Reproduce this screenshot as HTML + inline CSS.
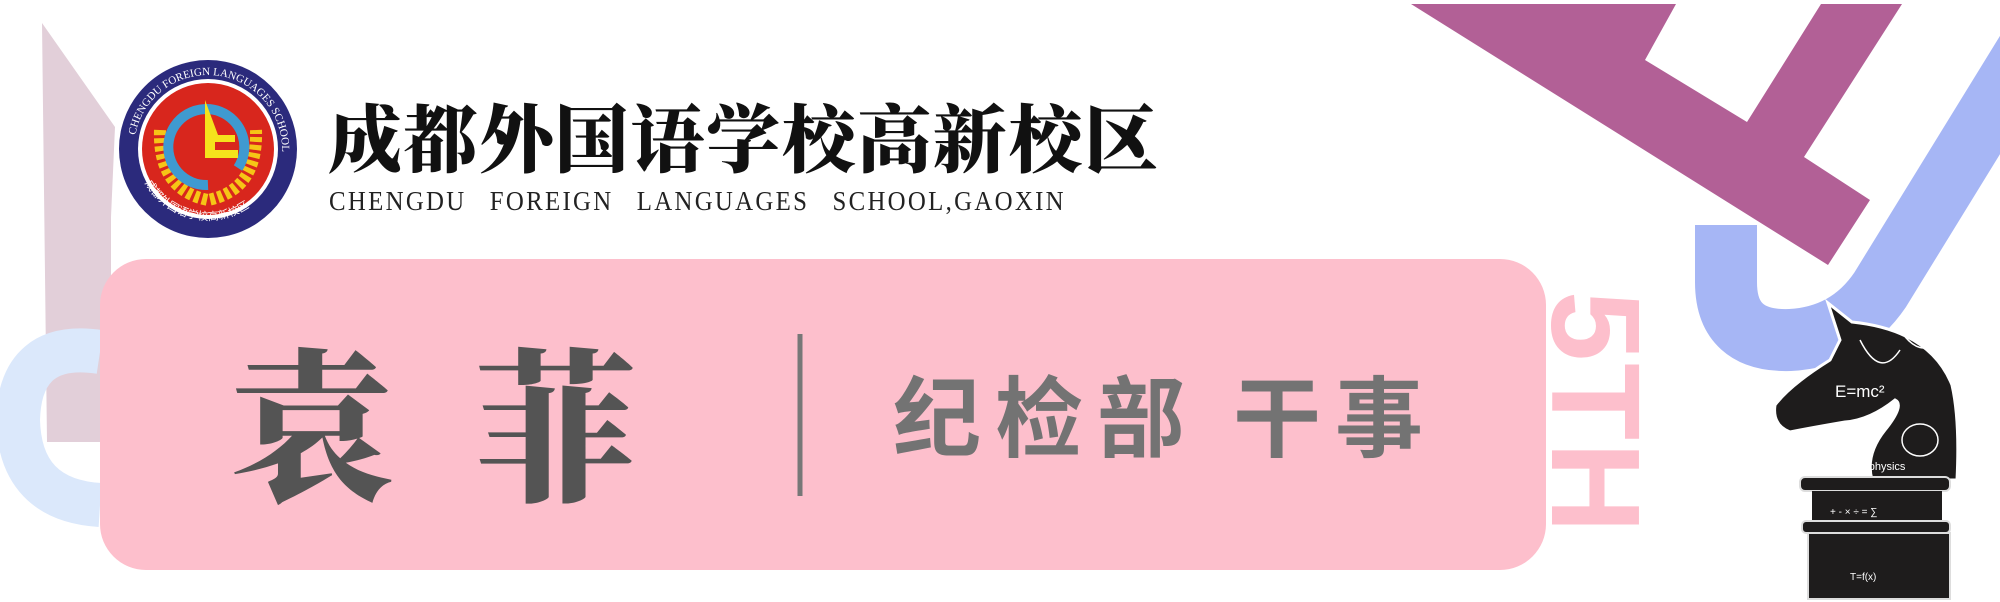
<!DOCTYPE html>
<html><head><meta charset="utf-8">
<style>
html,body{margin:0;padding:0;background:#fff;}
#root{position:relative;width:2000px;height:602px;overflow:hidden;background:#fff;font-family:"Liberation Sans","Noto Sans CJK SC",sans-serif;}
.abs{position:absolute;}
</style></head>
<body>
<div id="root">
<svg class="abs" style="left:0;top:0" width="2000" height="602">
  <polygon points="42,23 115,127 111,217 111,442 47,442" fill="#e2cfd9"/>
  <path d="M100,352 Q20,340 18,420 Q20,500 100,505" fill="none" stroke="#dbe8fb" stroke-width="44"/>
  <path d="M1726,225 L1726,282 Q1726,342 1790,340 Q1848,337 1880,290 L2040,30" fill="none" stroke="#a6b6f5" stroke-width="62"/>
  <polygon points="1411,4 1676,4 1645,60 1747,122 1821,4 1902,4 1804,157 1870,200 1828,265" fill="#b26096"/>
  <rect x="100" y="259" width="1446" height="311" rx="46" fill="#fdbfcc"/>
  <text transform="translate(1552,291) rotate(90)" font-family="Liberation Sans" font-weight="bold" font-size="126" fill="#fdbfcc" letter-spacing="2">5TH</text>
  <g>
    <circle cx="208" cy="149" r="89" fill="#2b2a7c"/>
    <circle cx="208" cy="149" r="70" fill="#fff"/>
    <circle cx="208" cy="149" r="66" fill="#d8261d"/>
    <path d="M160,130 Q158,190 208,200 Q258,190 256,130" fill="none" stroke="#f6c516" stroke-width="12" stroke-dasharray="5 3"/>
    <path d="M208,185 A38,38 0 1 1 238,168" fill="none" stroke="#3f9ad0" stroke-width="10"/>
    <polygon points="205,100 218,135 235,135 235,142 215,142 215,150 238,150 238,158 205,158" fill="#f5e31c"/>
    <path id="lp" d="M134,149 A74,74 0 0 1 282,149" fill="none"/>
    <text font-family="Liberation Serif" font-size="11" fill="#fff"><textPath href="#lp" startOffset="6%">CHENGDU FOREIGN LANGUAGES SCHOOL,GAOXIN</textPath></text>
    <path id="lp2" d="M138,165 A72,72 0 0 0 278,165" fill="none"/>
    <text font-family="Noto Sans CJK SC" font-size="11" fill="#fff"><textPath href="#lp2" startOffset="10%">成都外国语学校高新校区</textPath></text>
  </g>
  <g>
    <path d="M1828,303 L1852,322 Q1930,330 1952,385 Q1960,420 1957,480 L1872,480 Q1865,455 1885,430 Q1905,405 1895,400 Q1870,420 1845,422 Q1810,428 1790,432 Q1772,425 1775,405 Q1790,385 1830,360 L1840,340 Z" fill="#1e1c1c" stroke="#fff" stroke-width="3"/>
    <rect x="1800" y="477" width="150" height="14" rx="5" fill="#1e1c1c" stroke="#ddd" stroke-width="2"/>
    <rect x="1812" y="491" width="130" height="30" fill="#1e1c1c"/>
    <rect x="1802" y="521" width="148" height="12" rx="4" fill="#1e1c1c" stroke="#ddd" stroke-width="2"/>
    <rect x="1808" y="533" width="142" height="66" fill="#1e1c1c" stroke="#ddd" stroke-width="2"/>
    <text x="1835" y="397" font-size="17" fill="#fff" font-family="Liberation Sans">E=mc²</text>
    <text x="1840" y="470" font-size="11" fill="#fff" font-family="Liberation Sans">x²-As physics</text>
    <ellipse cx="1920" cy="440" rx="18" ry="16" fill="none" stroke="#fff" stroke-width="1.5"/>
    <path d="M1860,340 Q1880,380 1900,350 M1900,330 Q1920,360 1940,340" fill="none" stroke="#fff" stroke-width="1.5"/>
    <text x="1830" y="515" font-size="10" fill="#fff" font-family="Liberation Sans">+ - × ÷ = ∑</text>
    <text x="1850" y="580" font-size="10" fill="#fff" font-family="Liberation Sans">T=f(x)</text>
  </g>
  <line x1="800" y1="334" x2="800" y2="496" stroke="#777" stroke-width="5"/>
</svg>
<div class="abs" style="left:328px;top:90px;font-family:'Noto Serif CJK SC','Liberation Serif',serif;font-size:74px;font-weight:900;letter-spacing:1.6px;color:#111;line-height:90px;white-space:nowrap;">成都外国语学校高新校区</div>
<div class="abs" style="left:329px;top:186px;font-family:'Liberation Serif',serif;font-size:27px;color:#222;letter-spacing:2.5px;word-spacing:16px;white-space:nowrap;transform:scaleX(0.92);transform-origin:left;">CHENGDU FOREIGN LANGUAGES SCHOOL,GAOXIN</div>
<div class="abs" style="left:228px;top:318px;font-family:'Noto Serif CJK SC',serif;font-weight:900;font-size:165px;letter-spacing:80px;color:#545454;line-height:200px;white-space:nowrap;">袁菲</div>
<div class="abs" style="left:893px;top:358px;font-family:'Noto Sans CJK SC',sans-serif;font-weight:bold;font-size:88px;letter-spacing:14px;color:#737373;line-height:110px;white-space:nowrap;">纪检部 干事</div>
</div>
</body></html>
